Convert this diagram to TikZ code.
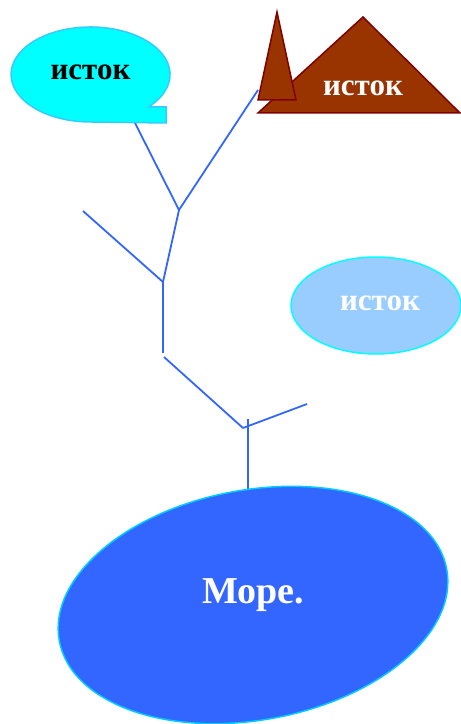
\documentclass[tikz,border=0pt]{standalone}
\usepackage{fontspec}
\setmainfont{Liberation Serif}
\usetikzlibrary{shapes.geometric}
\definecolor{river}{HTML}{3366FF}
\definecolor{aqua}{HTML}{00FFFF}
\definecolor{aquaedge}{HTML}{33CCFF}
\definecolor{clay}{HTML}{993300}
\definecolor{clayedge}{HTML}{800000}
\definecolor{sky}{HTML}{99CCFF}
\definecolor{seaedge}{HTML}{00CCFF}
\tikzset{
  stream/.style={draw=river, line width=1.8pt},
  outline/.style={line width=1.5pt},
  srctext/.style={font=\fontsize{31}{31}\selectfont\bfseries, inner sep=0pt, anchor=base},
  seatext/.style={font=\fontsize{38}{38}\selectfont\bfseries, inner sep=0pt, anchor=base},
}
\begin{document}
\begin{tikzpicture}[x=1pt, y=1pt]
\useasboundingbox (0,0) rectangle (461,724);

% junction points of the river network
\coordinate (calloutfoot) at (135,601);
\coordinate (peakfoot) at (258,634);
\coordinate (j1) at (179,514);
\coordinate (west) at (83,513);
\coordinate (j2) at (163,442);
\coordinate (p) at (163,371);
\coordinate (q) at (164,367);
\coordinate (j3) at (243,296);
\coordinate (east) at (307,320);
\coordinate (mouthtop) at (248,305);
\coordinate (mouth) at (248,225);

% river branches
\draw[stream] (calloutfoot) -- (j1);
\draw[stream] (peakfoot) -- (j1);
\draw[stream] (j1) -- (j2);
\draw[stream] (west) -- (j2);
\draw[stream] (j2) -- (p);
\draw[stream] (q) -- (j3);
\draw[stream] (j3) -- (east);
\draw[stream] (mouthtop) -- (mouth);

% callout-shaped source
\draw[outline, fill=aqua, draw=aquaedge]
  (148.5,617) arc[start angle=-43.2, end angle=270, x radius=79.5, y radius=47.5]
  -- (166,601) -- (166,617) -- cycle;
\node[srctext, text=black] (src1) at (90.5,644) {исток};

% mountain source
\draw[outline, fill=clay, draw=clayedge] (258,611) -- (363,707) -- (460,611) -- cycle;
\draw[outline, fill=clay, draw=clayedge] (258,624) -- (277,712) -- (296,624) -- cycle;
\node[srctext, text=white] (src2) at (363,628) {исток};

% oval source
\node[ellipse, outline, fill=sky, draw=aqua, minimum width=170pt, minimum height=97pt, inner sep=0pt] (src3) at (376,418.5) {};
\node[srctext, text=white] at (380,413) {исток};

% the sea
\node[ellipse, outline, fill=river, draw=seaedge, minimum width=394pt, minimum height=230pt, inner sep=0pt, rotate=10.5] (sea) at (253,119) {};
\node[seatext, text=white] at (253,120) {Море.};
\end{tikzpicture}
\end{document}
